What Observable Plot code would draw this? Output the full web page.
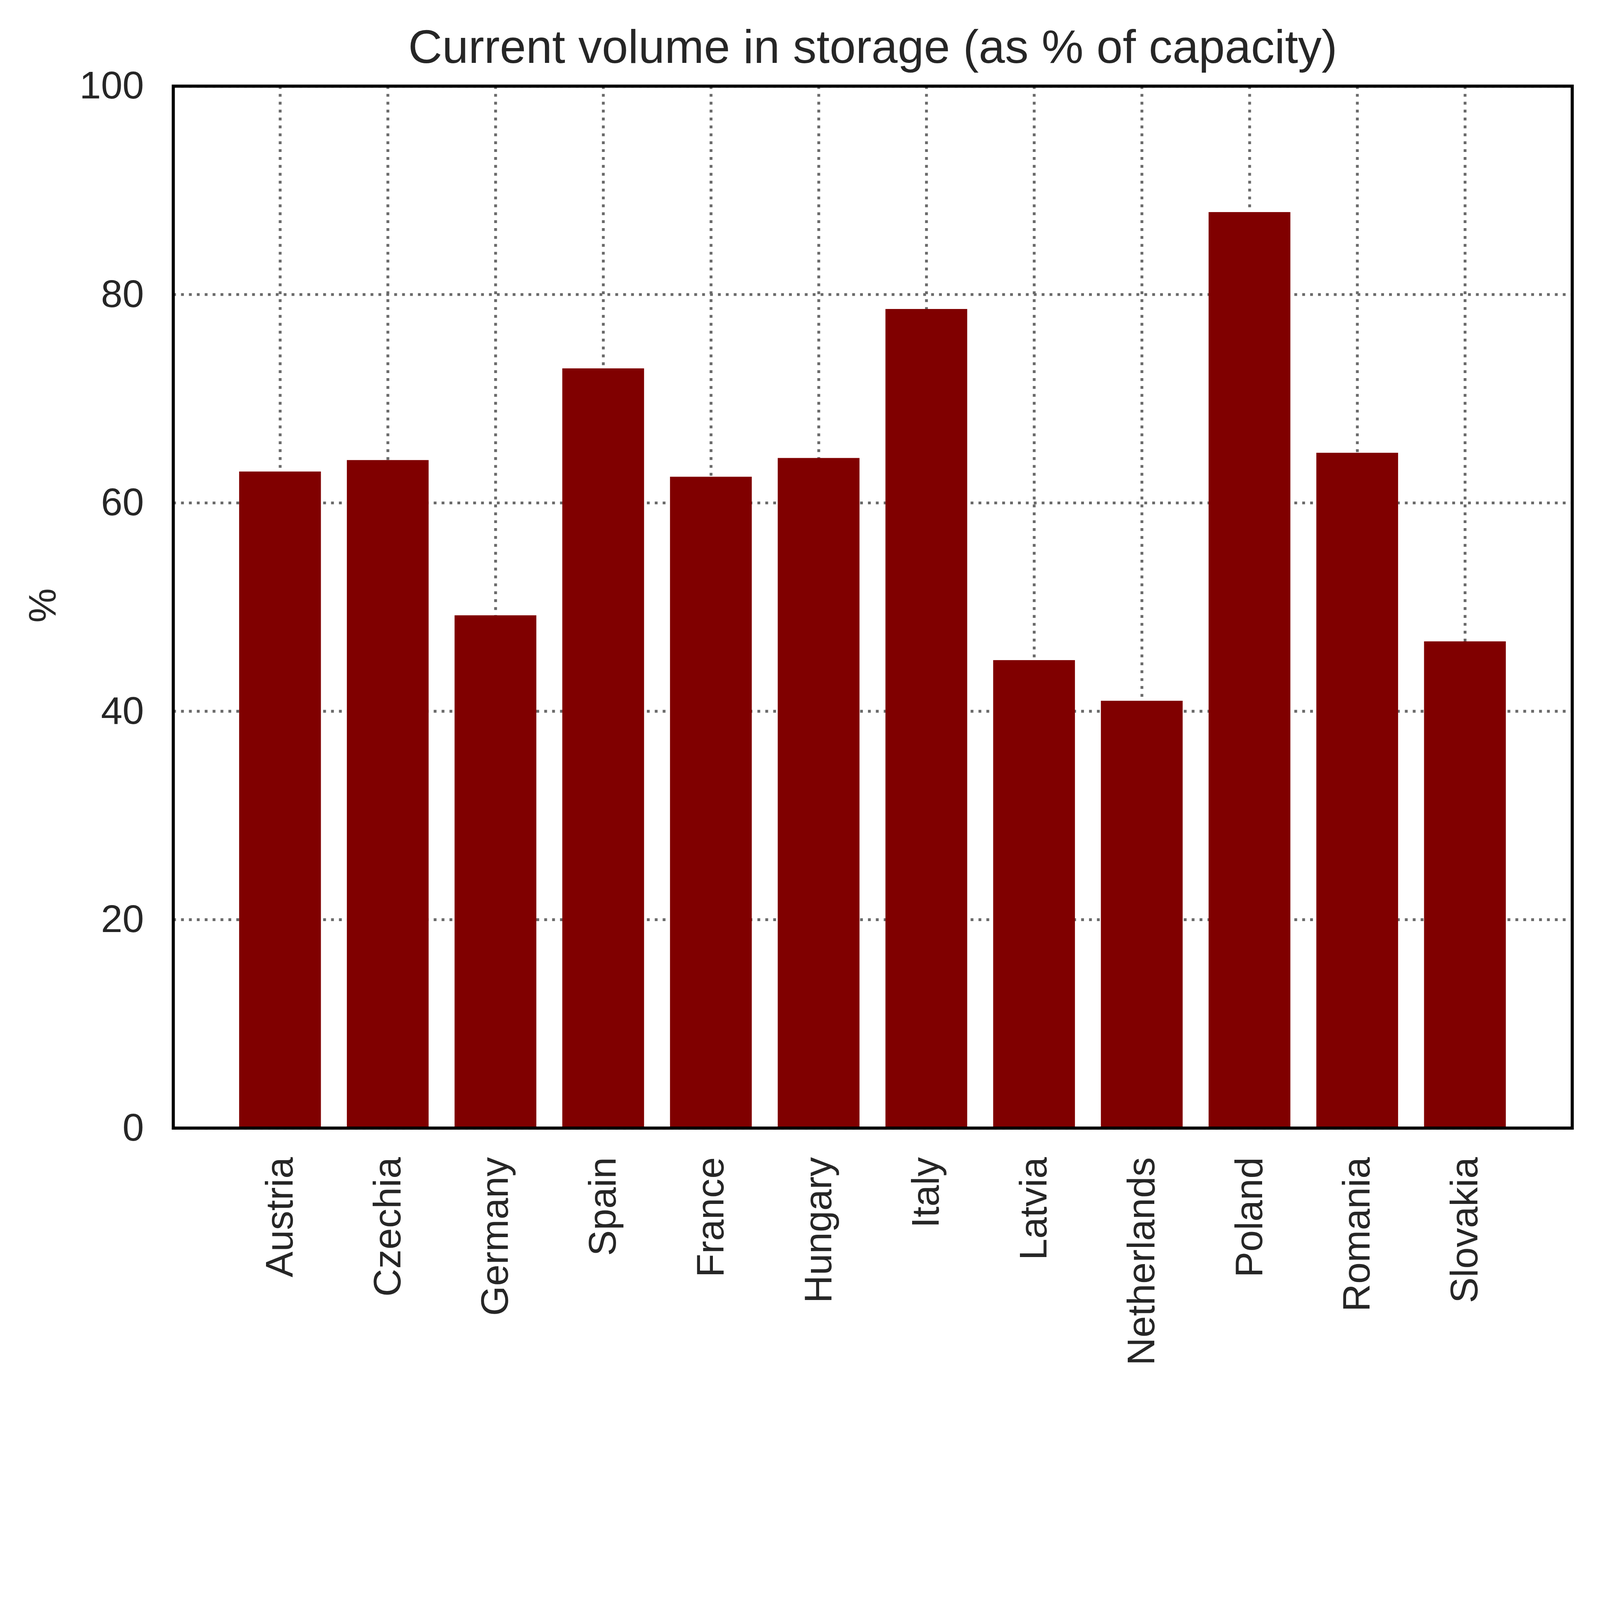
<!DOCTYPE html>
<html>
<head>
<meta charset="utf-8">
<script src="https://cdn.jsdelivr.net/npm/d3@7"></script>
<script src="https://cdn.jsdelivr.net/npm/@observablehq/plot@0.6"></script>
<style>
  html, body { margin: 0; padding: 0; background: white; overflow: hidden; }
  #chart svg { display: block; }
</style>
</head>
<body>
<div id="chart"></div>
<script>
const titleText = "Current volume in storage (as % of capacity)";
const countries = ["Austria","Czechia","Germany","Spain","France","Hungary","Italy","Latvia","Netherlands","Poland","Romania","Slovakia"];
const values = [63.0, 64.1, 49.2, 72.9, 62.5, 64.3, 78.6, 44.9, 41.0, 87.9, 64.8, 46.7];
const yTicks = [0, 20, 40, 60, 80, 100];
const yLabel = "%";

const data = countries.map((c, i) => ({country: c, value: values[i]}));

const gridStyle = {stroke: "#6a6a6a", strokeOpacity: 1, strokeWidth: 10, strokeDasharray: "10,18"};

const chart = Plot.plot({
  width: 5674,
  height: 4946,
  marginTop: 305,
  marginBottom: 946,
  marginLeft: 614,
  marginRight: 99,
  style: {fontFamily: '"Liberation Sans", Arial, sans-serif', color: "#262626", background: "white"},
  x: {type: "band", domain: countries, paddingInner: 0.24, paddingOuter: 0.613},
  y: {domain: [0, 100]},
  marks: [
    Plot.gridY(yTicks, gridStyle),
    Plot.gridX(gridStyle),
    Plot.barY(data, {x: "country", y: "value", fill: "#800000"}),
    Plot.frame({stroke: "black", strokeWidth: 11}),
    Plot.axisY(yTicks, {tickSize: 0, tickPadding: 104, label: null, fontSize: 137}),
    Plot.axisX({tickSize: 0, tickPadding: 103, tickRotate: -90, label: null, fontSize: 137}),
    Plot.text([yLabel], {frameAnchor: "left", dx: -461, dy: 55, rotate: -90, fontSize: 137, fill: "#262626"}),
    Plot.text([titleText], {frameAnchor: "top", dy: -82, lineAnchor: "bottom", fontSize: 167, fill: "#262626"})
  ]
});
document.getElementById("chart").appendChild(chart);
</script>
</body>
</html>
